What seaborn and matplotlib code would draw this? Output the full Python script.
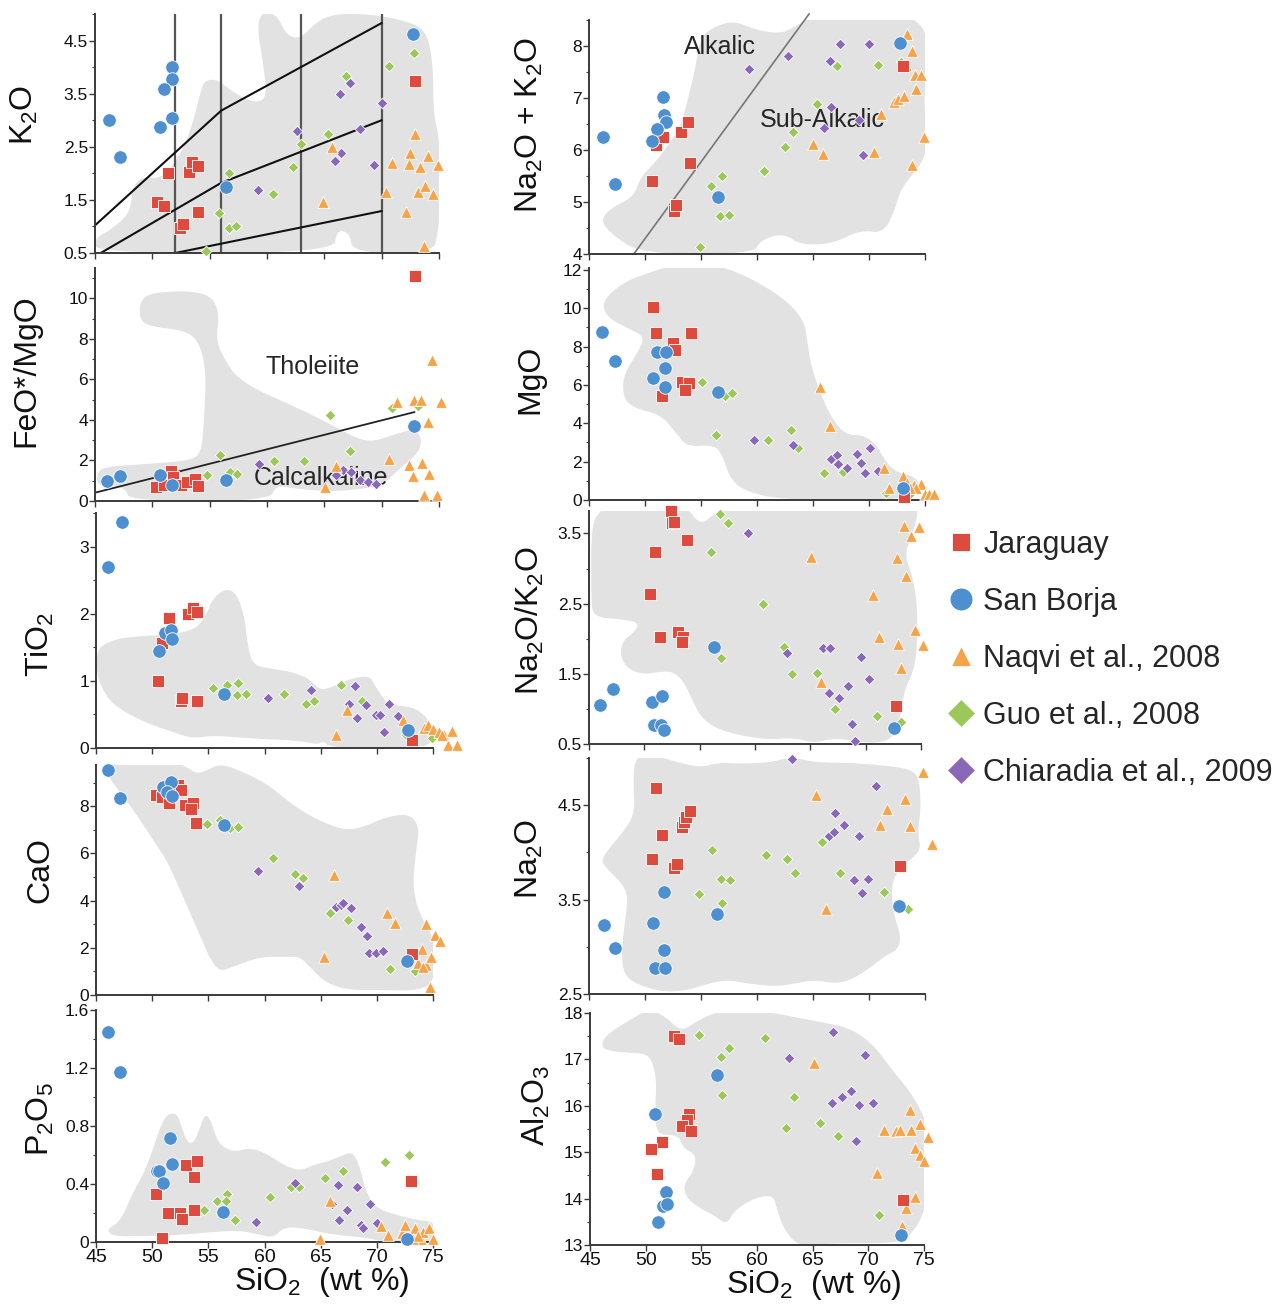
import numpy as np
import pandas as pd
import matplotlib
matplotlib.use("Agg")
import matplotlib.pyplot as plt
import seaborn as sns
from matplotlib.lines import Line2D

# ---------------- series ----------------
SERIES = ["Jaraguay", "San Borja", "Naqvi et al., 2008", "Guo et al., 2008", "Chiaradia et al., 2009"]
COLORS = ["#DD4A3E", "#4D8FCF", "#F6A34A", "#9CC75A", "#8A68B8"]
MARKERS = ["s", "o", "^", "D", "D"]
SIZES = [70, 95, 70, 30, 30]
DRAW_ORDER = [3, 4, 2, 0, 1]

# ---------------- K2O ----------------
K2O_JAR = [(51.4, 2.01), (53.2, 2.03), (53.5, 2.21), (54.0, 2.13), (50.4, 1.46), (51.0, 1.39),
           (52.45, 0.97), (52.7, 1.05), (54.0, 1.27), (72.9, 3.73)]
K2O_SB = [(46.2, 3.0), (47.2, 2.31), (51.7, 4.0), (51.75, 3.78), (51.0, 3.59), (50.65, 2.88),
          (51.7, 3.05), (56.4, 1.74), (72.7, 4.63)]
K2O_NAQ = [(64.9, 1.46), (65.7, 2.5), (70.4, 1.65), (70.9, 2.2), (72.1, 1.28), (72.45, 2.38),
           (72.4, 2.18), (72.9, 2.74), (73.3, 2.11), (73.2, 1.65), (73.75, 1.77), (74.0, 2.33),
           (74.5, 1.61), (74.9, 2.15), (73.7, 0.63)]
K2O_GUO = [(54.7, 0.53), (55.8, 1.25), (56.7, 2.01), (56.7, 0.98), (57.3, 1.01), (60.5, 1.61),
           (62.3, 2.11), (63.0, 2.56), (65.3, 2.75), (66.9, 3.83), (70.6, 4.03), (72.8, 4.27)]
K2O_CHI = [(59.2, 1.68), (62.65, 2.8), (66.4, 3.49), (67.2, 3.71), (66.45, 2.39), (65.9, 2.24),
           (68.1, 2.83), (69.3, 2.16), (70.0, 3.32)]
K2O_FIELD = [(45, 0.5), (45, 0.78), (46.4, 0.94), (48.1, 1.26), (48.25, 1.76), (49.3, 1.95), (50.7, 1.89),
             (52.2, 2.26), (53.3, 2.77), (54.2, 3.52), (54.5, 3.74), (55.6, 3.78), (57.1, 3.52),
             (58.8, 3.33), (60.0, 3.4), (59.7, 4.03), (59.1, 4.78), (59.7, 5.07), (60.9, 4.97),
             (61.7, 4.6), (62.9, 4.53), (64.3, 4.85), (65.8, 5.0), (68.7, 5.0), (71.6, 4.9),
             (73.9, 4.72), (74.5, 4.03), (74.5, 3.15), (75.05, 2.64), (75.2, 1.5), (74.9, 0.88),
             (74.5, 0.5), (67.5, 0.5), (67.2, 0.88), (66.1, 0.94), (65.8, 0.5)]
K2O_LINES = [[(45, 1.02), (56, 3.18), (70, 4.83)],
             [(45.5, 0.5), (56, 1.82), (70, 3.0)],
             [(52, 0.5), (70, 1.29)]]
K2O_VLINES = [52, 56, 63, 70]

# ---------------- Na2O + K2O ----------------
ALK_JAR = [(50.6, 5.41), (51.0, 6.09), (51.6, 6.25), (53.2, 6.34), (53.8, 6.54), (54.0, 5.75),
           (52.6, 4.83), (52.8, 4.95), (73.0, 7.62)]
ALK_SB = [(46.25, 6.25), (47.3, 5.34), (51.6, 7.01), (51.7, 6.67), (51.9, 6.54), (51.1, 6.4),
          (50.6, 6.18), (56.5, 5.09), (72.8, 8.06)]
ALK_NAQ = [(65.0, 6.11), (65.85, 5.93), (70.45, 5.96), (71.05, 6.7), (72.2, 6.92), (72.6, 6.98),
           (73.1, 7.03), (73.4, 8.24), (73.8, 7.9), (73.3, 7.63), (74.1, 7.44), (74.6, 7.44),
           (74.2, 7.18), (74.9, 6.25), (73.8, 5.72)]
ALK_GUO = [(54.9, 4.13), (55.9, 5.31), (56.85, 5.5), (56.7, 4.74), (57.5, 4.75), (60.6, 5.6),
           (62.5, 6.06), (63.2, 6.35), (65.4, 6.89), (67.1, 7.62), (70.8, 7.63), (72.9, 7.7)]
ALK_CHI = [(59.3, 7.56), (62.8, 7.81), (66.5, 7.72), (67.4, 8.03), (70.0, 8.04), (66.6, 6.83),
           (66.0, 6.43), (69.1, 6.57), (69.5, 5.9)]
ALK_FIELD = [(46.04, 4.65), (46.93, 4.88), (49.0, 5.1), (49.6, 5.48), (51.1, 5.8), (53.2, 6.44),
             (53.8, 6.96), (54.4, 7.47), (54.95, 8.17), (56.1, 8.36), (57.9, 8.49), (60.0, 8.3),
             (62.1, 8.24), (63.3, 8.36), (64.75, 8.56), (66.8, 8.59), (69.8, 8.59), (72.8, 8.62),
             (74.25, 8.49), (75.15, 8.24), (75.3, 7.6), (74.85, 6.96), (75.3, 6.19), (74.85, 5.8),
             (73.96, 5.55), (72.8, 5.23), (72.3, 4.84), (71.3, 4.4), (69.2, 4.46), (66.8, 4.2),
             (63.9, 4.17), (62.4, 4.4), (60.3, 4.27), (59.7, 4.0), (49.6, 4.0), (46.9, 4.4)]
ALK_LINE = [(49.0, 4.0), (64.66, 8.62)]

# ---------------- FeO*/MgO ----------------
FEO_JAR = [(50.3, 0.67), (51.0, 0.79), (51.6, 1.48), (51.8, 1.2), (52.5, 0.79), (53.0, 0.95),
           (53.7, 1.11), (54.0, 0.74), (72.9, 11.11)]
FEO_SB = [(46.05, 0.98), (47.2, 1.25), (50.7, 1.28), (51.7, 0.79), (56.4, 1.03), (72.8, 3.7)]
FEO_NAQ = [(65.1, 0.67), (66.0, 1.74), (70.6, 2.07), (71.3, 4.89), (72.4, 1.8), (72.7, 1.25),
           (72.8, 4.97), (73.4, 4.97), (73.5, 1.9), (74.0, 3.9), (74.1, 1.31), (73.7, 0.3),
           (74.4, 6.98), (74.8, 0.3), (75.2, 4.89)]
FEO_GUO = [(54.8, 1.28), (55.9, 2.26), (56.8, 1.44), (57.4, 1.31), (60.6, 1.98), (63.2, 1.98),
           (65.5, 4.23), (67.2, 2.48), (70.9, 4.59), (73.2, 4.69)]
FEO_CHI = [(59.3, 1.85), (66.0, 1.28), (66.6, 1.52), (67.35, 1.44), (68.1, 1.03), (68.8, 0.95),
           (69.5, 0.82)]
FEO_FIELD = [(45.2, 1.44), (46.0, 1.69), (48.9, 1.8), (52.9, 1.97), (54.25, 2.26), (54.5, 3.9),
             (54.7, 6.36), (54.1, 7.84), (52.9, 8.41), (49.7, 8.62), (48.9, 8.98), (48.9, 9.8),
             (49.7, 10.26), (52.9, 10.38), (55.1, 10.16), (55.85, 9.31), (55.56, 8.0), (56.1, 7.18),
             (57.6, 5.87), (62.8, 4.56), (65.7, 3.74), (68.65, 2.84), (71.0, 3.25), (72.7, 3.57),
             (73.5, 3.16), (73.3, 2.43), (71.6, 1.61), (70.1, 0.79), (68.65, 0.62), (65.7, 0.46),
             (62.25, 0.62), (60.8, 0.79), (60.2, 0.0), (48.0, 0.0), (47.7, 0.62), (46.25, 0.79),
             (45.2, 0.79)]
FEO_LINE = [(45.0, 0.41), (72.87, 4.39)]

# ---------------- MgO ----------------
MGO_JAR = [(50.7, 10.09), (51.0, 8.73), (54.1, 8.73), (52.5, 8.17), (52.7, 7.83), (53.3, 6.17),
           (53.9, 6.09), (53.6, 5.74), (51.5, 5.44), (73.1, 0.17)]
MGO_SB = [(46.2, 8.75), (47.3, 7.25), (51.1, 7.7), (51.9, 7.7), (51.8, 6.9), (50.7, 6.35),
          (51.75, 5.91), (56.5, 5.62), (73.0, 0.64)]
MGO_NAQ = [(65.6, 5.91), (66.5, 3.86), (71.3, 1.69), (71.8, 0.64), (73.0, 1.27), (73.4, 0.87),
           (74.0, 0.78), (74.6, 0.82), (74.2, 0.61), (73.7, 0.61), (75.0, 0.3), (75.4, 0.3),
           (75.8, 0.3)]
MGO_GUO = [(55.1, 6.17), (56.3, 3.39), (57.1, 5.43), (57.8, 5.6), (61.0, 3.13), (63.0, 3.65),
           (63.7, 2.7), (66.0, 1.39), (67.7, 1.44), (71.5, 0.35), (73.75, 0.35)]
MGO_CHI = [(59.75, 3.13), (63.2, 2.87), (66.65, 2.14), (67.15, 2.35), (67.25, 1.86), (68.0, 1.65),
           (68.9, 2.38), (69.3, 1.91), (69.6, 1.43), (70.1, 2.73), (70.8, 1.53)]
MGO_FIELD = [(46.4, 10.52), (48.2, 11.39), (50.6, 11.91), (52.9, 12.3), (56.5, 12.26), (59.45, 11.57),
             (62.4, 10.52), (64.2, 9.39), (64.5, 8.26), (64.8, 7.04), (65.7, 5.48), (66.85, 4.09),
             (68.0, 3.39), (69.5, 3.39), (70.7, 2.87), (71.3, 2.17), (72.3, 1.48), (73.7, 1.3),
             (74.5, 0.96), (74.3, 0.0), (62.7, 0.0), (59.45, 0.35), (57.7, 0.96), (56.9, 2.35),
             (56.2, 2.87), (53.8, 2.78), (52.9, 3.39), (51.5, 4.43), (49.1, 4.78), (48.05, 5.3),
             (48.05, 6.52), (49.4, 7.74), (49.97, 8.52), (48.5, 8.96), (47.0, 9.39), (46.27, 9.91)]

# ---------------- TiO2 ----------------
TIO_JAR = [(50.5, 1.0), (50.85, 1.57), (51.5, 1.94), (53.2, 1.99), (53.6, 2.09), (54.0, 2.02),
           (52.6, 0.7), (52.7, 0.74), (54.0, 0.7), (73.1, 0.12)]
TIO_SB = [(46.1, 2.69), (47.3, 3.36), (50.6, 1.44), (51.15, 1.71), (51.7, 1.76), (51.75, 1.63),
          (56.4, 0.8), (72.8, 0.27)]
TIO_NAQ = [(66.4, 0.2), (67.3, 0.56), (72.3, 0.41), (74.2, 0.3), (74.55, 0.34), (75.0, 0.29),
           (75.5, 0.24), (76.0, 0.2), (76.7, 0.25), (76.3, 0.05), (77.1, 0.04), (75.8, 0.19)]
TIO_GUO = [(55.45, 0.89), (56.7, 0.94), (57.6, 0.97), (57.55, 0.79), (58.35, 0.8), (61.7, 0.8),
           (63.65, 0.65), (64.4, 0.7), (66.8, 0.94), (68.7, 0.7), (72.6, 0.19), (74.9, 0.15)]
TIO_CHI = [(60.35, 0.75), (64.1, 0.86), (67.5, 0.65), (68.1, 0.92), (68.2, 0.45), (69.0, 0.64),
           (69.9, 0.49), (70.3, 0.49), (70.6, 0.24), (71.1, 0.65), (71.9, 0.47)]
TIO_FIELD = [(45.06, 1.48), (46.5, 1.61), (48.3, 1.66), (50.6, 1.68), (52.4, 1.71), (53.9, 1.78),
             (54.8, 1.98), (55.4, 2.23), (56.6, 2.38), (57.5, 2.3), (58.2, 1.98), (58.5, 1.53),
             (58.96, 1.23), (60.7, 1.18), (62.5, 1.13), (64.0, 1.03), (64.9, 0.86), (66.1, 0.91),
             (67.6, 1.03), (69.35, 1.08), (69.8, 0.94), (70.5, 0.76), (71.1, 0.64), (73.2, 0.61),
             (74.25, 0.49), (75.0, 0.31), (75.0, 0.11), (74.1, 0.0), (65.8, 0.0), (65.3, 0.11),
             (64.75, 0.05), (63.1, 0.11), (58.96, 0.14), (55.4, 0.19), (53.6, 0.14), (51.8, 0.24),
             (49.2, 0.39), (46.5, 0.64), (45.45, 0.91), (45.06, 1.13)]

# ---------------- Na2O/K2O ----------------
NAK_JAR = [(52.4, 3.82), (52.5, 3.65), (52.7, 3.67), (53.9, 3.41), (51.0, 3.23), (50.5, 2.64),
           (51.4, 2.03), (53.0, 2.1), (53.5, 2.03), (53.4, 1.96), (72.7, 1.04)]
NAK_SB = [(46.0, 1.06), (47.2, 1.28), (50.7, 1.1), (51.6, 1.19), (50.9, 0.77), (51.5, 0.77),
          (51.8, 0.7), (56.3, 1.88), (72.6, 0.73)]
NAK_NAQ = [(65.1, 3.17), (66.0, 1.38), (70.7, 2.62), (71.2, 2.03), (72.8, 3.15), (72.9, 1.93),
           (73.5, 3.61), (74.1, 3.46), (73.6, 2.9), (73.2, 1.58), (74.45, 2.12), (74.85, 3.59),
           (75.2, 1.91)]
NAK_GUO = [(56.8, 3.78), (57.55, 3.65), (56.0, 3.24), (60.7, 2.5), (56.9, 1.73), (62.6, 1.88),
           (63.3, 1.5), (65.6, 1.51), (67.2, 1.0), (71.0, 0.9), (73.15, 0.81)]
NAK_CHI = [(59.4, 3.5), (62.9, 1.79), (66.1, 1.87), (66.8, 1.87), (66.7, 1.23), (67.55, 1.16),
           (68.4, 1.32), (69.55, 1.74), (70.3, 1.43), (68.8, 0.79), (69.05, 0.54)]
NAK_FIELD = [(45.2, 3.62), (46.0, 3.82), (46.9, 3.92), (48.4, 3.92), (49.9, 3.8), (51.4, 3.87),
             (52.6, 3.92), (53.85, 3.87), (55.06, 3.62), (56.3, 3.77), (57.5, 3.92), (58.7, 3.92),
             (59.9, 3.85), (61.1, 3.87), (62.6, 3.92), (64.15, 3.92), (66.0, 3.9), (67.2, 3.97),
             (68.4, 3.95), (69.6, 4.02), (71.7, 4.02), (73.2, 3.92), (74.76, 3.97), (74.6, 3.67),
             (74.0, 3.43), (73.55, 3.18), (74.15, 2.93), (74.6, 2.58), (74.7, 2.08), (74.45, 1.58),
             (73.55, 1.29), (73.24, 0.99), (72.8, 0.69), (72.0, 0.54), (70.2, 0.51), (67.2, 0.59),
             (65.36, 0.51), (63.55, 0.59), (61.1, 0.56), (58.1, 0.64), (56.3, 0.74), (55.06, 0.89),
             (54.15, 1.19), (53.55, 1.39), (52.6, 1.53), (51.4, 1.53), (49.9, 1.49), (48.4, 1.58),
             (47.8, 1.78), (48.1, 1.98), (49.0, 2.08), (49.6, 2.23), (47.8, 2.28), (45.36, 2.31),
             (45.2, 2.58)]

# ---------------- CaO ----------------
CAO_JAR = [(50.3, 8.49), (50.9, 8.39), (51.5, 8.15), (52.3, 8.91), (52.6, 8.67), (52.9, 8.07),
           (53.6, 8.15), (53.5, 7.9), (53.9, 7.31), (73.1, 1.73)]
CAO_SB = [(46.1, 9.55), (47.1, 8.35), (51.0, 8.82), (51.7, 9.03), (51.3, 8.6), (51.8, 8.42),
          (56.4, 7.19), (72.7, 1.44)]
CAO_NAQ = [(65.3, 1.59), (66.2, 5.08), (70.9, 3.46), (71.6, 3.07), (74.05, 1.93), (74.35, 3.0),
           (73.7, 1.34), (74.4, 1.27), (74.8, 1.59), (75.15, 2.54), (75.6, 2.3), (74.7, 0.35),
           (74.1, 1.2)]
CAO_GUO = [(54.9, 7.26), (56.0, 7.4), (56.9, 7.08), (57.6, 7.12), (60.8, 5.81), (62.7, 5.15),
           (63.45, 4.94), (65.8, 3.46), (67.45, 3.2), (71.2, 1.1), (73.4, 1.02)]
CAO_CHI = [(59.45, 5.26), (63.1, 4.63), (66.35, 3.74), (66.8, 3.81), (67.0, 3.92), (67.7, 3.7),
           (68.6, 2.89), (69.1, 2.5), (69.3, 1.79), (69.9, 1.76), (70.55, 1.88)]
CAO_FIELD = [(46.27, 9.8), (48.35, 9.87), (50.4, 9.73), (51.9, 9.87), (53.1, 9.66), (53.97, 9.38),
             (54.86, 9.52), (56.05, 9.8), (57.8, 9.52), (60.2, 8.96), (62.0, 8.25), (63.7, 7.69),
             (65.5, 7.26), (67.3, 6.98), (68.8, 7.12), (70.85, 7.55), (72.9, 7.69), (73.8, 7.12),
             (73.5, 6.14), (73.2, 4.72), (73.5, 3.88), (74.1, 3.17), (75.0, 2.47), (75.3, 1.62),
             (75.0, 0.49), (73.5, 0.18), (70.6, 0.21), (67.6, 0.21), (65.5, 0.49), (64.0, 1.2),
             (63.15, 1.62), (62.0, 1.62), (59.6, 1.62), (57.2, 1.2), (56.05, 0.99), (55.2, 1.48),
             (54.3, 2.47), (52.5, 4.44), (51.3, 5.71), (50.1, 6.56), (48.35, 7.83), (46.3, 9.1),
             (46.0, 9.52)]

# ---------------- Na2O ----------------
NA_JAR = [(51.0, 4.68), (51.5, 4.18), (50.6, 3.93), (52.6, 3.84), (52.9, 3.88), (53.3, 4.27),
          (53.5, 4.32), (53.7, 4.38), (54.0, 4.44), (72.8, 3.86)]
NA_SB = [(46.3, 3.23), (47.3, 2.99), (50.7, 3.25), (51.7, 3.58), (51.7, 2.97), (50.9, 2.78),
         (51.8, 2.78), (56.4, 3.35), (72.7, 3.43)]
NA_NAQ = [(65.3, 4.61), (66.2, 3.4), (71.0, 4.29), (71.6, 4.46), (73.2, 4.57), (73.7, 4.28),
          (74.85, 4.85), (75.6, 4.09)]
NA_GUO = [(54.8, 3.56), (56.0, 4.03), (56.8, 3.72), (57.6, 3.71), (56.9, 3.46), (60.8, 3.97),
          (62.7, 3.93), (63.4, 3.78), (65.8, 4.11), (67.45, 3.78), (71.3, 3.58), (73.45, 3.4)]
NA_CHI = [(63.1, 4.99), (70.6, 4.7), (67.0, 4.42), (66.4, 4.17), (66.9, 4.22), (67.8, 4.29),
          (69.1, 4.17), (68.7, 3.71), (69.35, 3.57), (69.9, 3.72)]
NA_FIELD = [(49.1, 5.01), (50.6, 5.04), (53.0, 4.95), (55.0, 4.9), (56.5, 4.95), (58.6, 4.94),
            (61.0, 4.95), (63.06, 5.01), (65.4, 4.95), (68.4, 4.95), (71.4, 4.92), (73.75, 4.88),
            (74.5, 4.78), (74.64, 4.46), (74.34, 4.21), (74.64, 4.03), (73.75, 3.93), (72.4, 3.78),
            (71.97, 3.61), (72.26, 3.32), (72.86, 3.11), (72.56, 2.97), (71.4, 2.9), (69.9, 2.76),
            (68.4, 2.65), (66.9, 2.61), (65.1, 2.65), (63.35, 2.61), (61.6, 2.58), (59.2, 2.61),
            (57.4, 2.65), (55.6, 2.61), (53.85, 2.54), (51.5, 2.52), (49.1, 2.61), (48.06, 2.72),
            (47.9, 2.97), (48.2, 3.25), (48.5, 3.54), (47.9, 3.68), (46.4, 3.85), (46.1, 3.93),
            (47.0, 4.07), (48.2, 4.24), (49.1, 4.42), (48.95, 4.74)]

# ---------------- P2O5 ----------------
P_JAR = [(50.3, 0.33), (51.4, 0.2), (50.9, 0.03), (52.5, 0.2), (52.7, 0.16), (53.0, 0.53),
         (53.7, 0.45), (53.7, 0.22), (54.0, 0.56), (73.0, 0.42)]
P_SB = [(46.1, 1.45), (47.1, 1.17), (51.6, 0.72), (51.75, 0.54), (50.4, 0.49), (50.6, 0.49),
        (50.95, 0.41), (56.3, 0.21), (72.7, 0.02)]
P_NAQ = [(64.9, 0.02), (65.8, 0.28), (70.4, 0.11), (71.0, 0.05), (72.2, 0.06), (72.5, 0.12),
         (73.4, 0.1), (73.9, 0.02), (74.1, 0.07), (74.6, 0.1), (75.0, 0.02), (73.2, 0.02), (73.7, 0.04)]
P_GUO = [(54.65, 0.22), (55.8, 0.28), (56.7, 0.33), (56.6, 0.28), (57.4, 0.15), (60.5, 0.31),
         (62.4, 0.38), (63.1, 0.38), (65.4, 0.44), (67.0, 0.49), (70.7, 0.55), (72.9, 0.6)]
P_CHI = [(59.2, 0.14), (62.7, 0.41), (66.0, 0.26), (66.5, 0.39), (66.6, 0.15), (67.3, 0.22),
         (68.2, 0.38), (68.6, 0.12), (68.8, 0.1), (69.4, 0.26), (70.05, 0.13)]
P_FIELD = [(46.3, 0.05), (46.0, 0.09), (47.16, 0.14), (48.35, 0.35), (49.5, 0.51), (50.7, 0.79),
           (51.3, 0.88), (52.2, 0.89), (52.64, 0.79), (53.1, 0.69), (53.7, 0.68), (54.27, 0.79),
           (54.7, 0.88), (55.16, 0.85), (55.6, 0.74), (56.05, 0.67), (57.2, 0.62), (58.7, 0.65),
           (60.2, 0.61), (61.7, 0.53), (63.15, 0.49), (64.3, 0.53), (65.8, 0.56), (67.0, 0.6),
           (67.9, 0.62), (68.5, 0.51), (69.1, 0.33), (70.0, 0.23), (72.0, 0.18), (73.8, 0.15),
           (75.0, 0.14), (75.3, 0.07), (75.15, 0.0), (70.6, 0.0), (69.1, 0.03), (66.1, 0.05),
           (63.15, 0.1), (61.7, 0.1), (60.8, 0.03), (59.6, 0.05), (57.8, 0.08), (55.45, 0.07),
           (52.8, 0.05), (48.9, 0.04), (47.2, 0.04)]

# ---------------- Al2O3 ----------------
AL_JAR = [(52.5, 17.5), (53.0, 17.44), (53.9, 15.83), (53.7, 15.7), (53.3, 15.57), (54.1, 15.46),
          (51.5, 15.23), (50.5, 15.06), (51.05, 14.53), (73.1, 13.97)]
AL_SB = [(50.8, 15.82), (51.8, 14.14), (51.6, 13.83), (51.9, 13.88), (51.1, 13.5), (56.4, 16.67),
         (72.9, 13.22)]
AL_NAQ = [(65.15, 16.92), (70.75, 14.56), (71.4, 15.48), (72.5, 15.45), (72.8, 15.48), (73.7, 15.91),
          (73.8, 15.47), (74.6, 15.6), (74.2, 15.09), (74.6, 14.94), (75.0, 14.81), (75.4, 15.32),
          (74.2, 14.04), (73.4, 13.79), (73.0, 13.42)]
AL_GUO = [(54.8, 17.53), (56.8, 17.05), (57.5, 17.24), (56.9, 16.24), (60.7, 17.46), (62.6, 15.52),
          (63.3, 16.18), (65.7, 15.64), (67.3, 15.34), (71.0, 13.65)]
AL_CHI = [(62.9, 17.03), (66.8, 17.58), (69.7, 17.09), (66.7, 16.07), (67.6, 16.18), (68.4, 16.31),
          (69.2, 16.01), (70.4, 16.07), (68.9, 15.24)]
AL_FIELD = [(46.05, 17.24), (46.2, 17.46), (47.4, 17.68), (48.9, 17.89), (50.4, 18.11), (51.9, 17.89),
            (53.2, 17.6), (54.6, 17.82), (56.1, 18.0), (57.9, 18.07), (60.3, 18.04), (62.4, 17.96),
            (65.4, 17.82), (68.35, 17.68), (70.45, 17.32), (72.25, 16.74), (73.74, 16.31),
            (74.94, 15.81), (75.54, 15.3), (75.54, 14.65), (75.24, 13.94), (74.64, 13.5),
            (73.74, 13.22), (72.84, 13.04), (66.86, 13.04), (65.36, 13.0), (63.56, 13.0),
            (62.37, 13.36), (61.77, 13.79), (61.47, 14.08), (59.67, 14.01), (57.87, 13.72),
            (57.28, 13.43), (56.08, 13.65), (54.88, 13.79), (53.68, 14.01), (53.38, 14.29),
            (54.28, 14.58), (54.58, 14.94), (53.38, 15.09), (53.08, 15.3), (52.49, 15.37),
            (51.59, 15.37), (50.99, 15.45), (50.84, 15.88), (50.99, 16.6), (50.39, 17.1),
            (48.89, 17.14), (47.1, 17.17)]

# ---------------- style ----------------
sns.set_theme(style="ticks")
plt.rcParams["font.family"] = ["Liberation Sans", "DejaVu Sans"]
plt.rcParams["mathtext.fontset"] = "custom"
plt.rcParams["mathtext.rm"] = "Liberation Sans"
plt.rcParams["mathtext.it"] = "Liberation Sans:italic"
plt.rcParams["mathtext.bf"] = "Liberation Sans:bold"

GREY = "#e2e2e2"
SPINE = "#3a3a3a"
W, H = 1286, 1306


def smooth(pts, n=3):
    p = np.asarray(pts, float)
    for _ in range(n):
        a = np.roll(p, -1, axis=0)
        q = 0.75 * p + 0.25 * a
        r = 0.25 * p + 0.75 * a
        p = np.empty((2 * len(q), 2))
        p[0::2] = q
        p[1::2] = r
    return p


def box(x0, y0, x1, y1):
    return [x0 / W, 1 - y1 / H, (x1 - x0) / W, (y1 - y0) / H]


PANELS = [
    dict(pos=box(95, 14, 439, 253), ylim=(0.5, 5.0), major=[0.5, 1.5, 2.5, 3.5, 4.5], minor=0.5,
         label=r"K$_2$O", lab=(-0.16, 0.58),
         data=[K2O_JAR, K2O_SB, K2O_NAQ, K2O_GUO, K2O_CHI], field=K2O_FIELD, bottom=False),
    dict(pos=box(589, 20, 925, 254), ylim=(4, 8.5), major=[4, 5, 6, 7, 8], minor=0.5,
         label=r"Na$_2$O + K$_2$O", lab=(-0.13, 0.55),
         data=[ALK_JAR, ALK_SB, ALK_NAQ, ALK_GUO, ALK_CHI], field=ALK_FIELD, bottom=False),
    dict(pos=box(95, 268, 439, 501), ylim=(0, 11.5), major=[0, 2, 4, 6, 8, 10], minor=1,
         label=r"FeO*/MgO", lab=(-0.155, 0.56),
         data=[FEO_JAR, FEO_SB, FEO_NAQ, FEO_GUO, FEO_CHI], field=FEO_FIELD, bottom=False),
    dict(pos=box(589, 268, 925, 500), ylim=(0, 12.1), major=[0, 2, 4, 6, 8, 10, 12], minor=1,
         label=r"MgO", lab=(-0.13, 0.52),
         data=[MGO_JAR, MGO_SB, MGO_NAQ, MGO_GUO, MGO_CHI], field=MGO_FIELD, bottom=False),
    dict(pos=box(96, 513, 433, 748), ylim=(0, 3.5), major=[0, 1, 2, 3], minor=0.5,
         label=r"TiO$_2$", lab=(-0.12, 0.44),
         data=[TIO_JAR, TIO_SB, TIO_NAQ, TIO_GUO, TIO_CHI], field=TIO_FIELD, bottom=False),
    dict(pos=box(589, 511, 921, 744), ylim=(0.5, 3.82), major=[0.5, 1.5, 2.5, 3.5], minor=0.5,
         label=r"Na$_2$O/K$_2$O", lab=(-0.13, 0.53),
         data=[NAK_JAR, NAK_SB, NAK_NAQ, NAK_GUO, NAK_CHI], field=NAK_FIELD, bottom=False),
    dict(pos=box(96, 765, 433, 995), ylim=(0, 9.75), major=[0, 2, 4, 6, 8], minor=1,
         label=r"CaO", lab=(-0.12, 0.545),
         data=[CAO_JAR, CAO_SB, CAO_NAQ, CAO_GUO, CAO_CHI], field=CAO_FIELD, bottom=False),
    dict(pos=box(589, 758, 925, 994), ylim=(2.5, 5.0), major=[2.5, 3.5, 4.5], minor=0.5,
         label=r"Na$_2$O", lab=(-0.13, 0.57),
         data=[NA_JAR, NA_SB, NA_NAQ, NA_GUO, NA_CHI], field=NA_FIELD, bottom=False),
    dict(pos=box(96, 1010, 433, 1242), ylim=(0, 1.6), major=[0, 0.4, 0.8, 1.2, 1.6], minor=0.2,
         label=r"P$_2$O$_5$", lab=(-0.12, 0.53),
         data=[P_JAR, P_SB, P_NAQ, P_GUO, P_CHI], field=P_FIELD, bottom=True),
    dict(pos=box(590, 1013, 924, 1245), ylim=(13, 18), major=[13, 14, 15, 16, 17, 18], minor=0.5,
         label=r"Al$_2$O$_3$", lab=(-0.115, 0.6),
         data=[AL_JAR, AL_SB, AL_NAQ, AL_GUO, AL_CHI], field=AL_FIELD, bottom=True),
]

fig = plt.figure(figsize=(W / 100, H / 100), dpi=100)
axes = []
for cfg in PANELS:
    ax = fig.add_axes(cfg["pos"])
    axes.append(ax)
    poly = smooth(cfg["field"])
    ax.fill(poly[:, 0], poly[:, 1], color=GREY, lw=0, zorder=0)
    for i in DRAW_ORDER:
        pts = np.asarray(cfg["data"][i])
        df = pd.DataFrame({"SiO2": pts[:, 0], "val": pts[:, 1]})
        sns.scatterplot(data=df, x="SiO2", y="val", ax=ax, marker=MARKERS[i], color=COLORS[i],
                        s=SIZES[i], edgecolor="white", linewidth=0.6, clip_on=False,
                        zorder=3, legend=False)
    ax.set_xlim(45, 75)
    ax.set_ylim(*cfg["ylim"])
    ax.set_xticks(np.arange(45, 76, 5))
    ax.set_yticks(cfg["major"])
    ax.set_yticklabels(["{:g}".format(v) for v in cfg["major"]])
    ax.yaxis.set_minor_locator(matplotlib.ticker.MultipleLocator(cfg["minor"]))
    ax.set_facecolor("none")
    for s in ("top", "right"):
        ax.spines[s].set_visible(False)
    for s in ("left", "bottom"):
        ax.spines[s].set_color(SPINE)
        ax.spines[s].set_linewidth(1.4)
    ax.tick_params(axis="both", which="major", direction="out", length=4, width=1.0,
                   color=SPINE, labelcolor="#111111", pad=1)
    ax.tick_params(axis="y", which="minor", direction="out", length=2.5, width=0.8, color=SPINE)
    ax.tick_params(axis="y", which="major", labelsize=12.5)
    ax.tick_params(axis="x", which="major", labelsize=14, labelbottom=cfg["bottom"])
    ax.set_ylabel(cfg["label"], fontsize=23, color="#111111")
    ax.yaxis.set_label_coords(*cfg["lab"])
    if cfg["bottom"]:
        ax.set_xlabel(r"SiO$_2$  (wt %)", fontsize=23, color="#111111")
        ax.xaxis.set_label_coords(0.67, -0.1)
    else:
        ax.set_xlabel("")

# classification lines
ax = axes[0]
for xv in K2O_VLINES:
    ax.axvline(xv, color="#555555", lw=1.6, zorder=1)
for ln in K2O_LINES:
    a = np.asarray(ln)
    ax.plot(a[:, 0], a[:, 1], color="#111111", lw=1.5, zorder=1)

ax = axes[1]
a = np.asarray(ALK_LINE)
ax.plot(a[:, 0], a[:, 1], color="#777777", lw=1.2, zorder=1, clip_on=False)
ax.text(56.7, 7.98, "Alkalic", fontsize=18, ha="center", va="center", zorder=2)
ax.text(65.8, 6.57, "Sub-Alkalic", fontsize=18, ha="center", va="center", zorder=2)

ax = axes[2]
a = np.asarray(FEO_LINE)
ax.plot(a[:, 0], a[:, 1], color="#222222", lw=1.3, zorder=1)
ax.text(64.0, 6.6, "Tholeiite", fontsize=18, ha="center", va="center", zorder=2)
ax.text(64.7, 1.15, "Calcalkaline", fontsize=18, ha="center", va="center", zorder=2)

# legend
LEG_MS = [13, 16.5, 14.5, 14, 14]
handles = [Line2D([0], [0], marker=MARKERS[i], color="none", markerfacecolor=COLORS[i],
                  markeredgecolor="white", markeredgewidth=0.6,
                  markersize=LEG_MS[i]) for i in range(5)]
fig.legend(handles, SERIES, loc="upper left", bbox_to_anchor=(946 / W, 1 - 530 / H),
           frameon=False, fontsize=22, handletextpad=0.22, labelspacing=0.88,
           handlelength=1.0, borderaxespad=0, borderpad=0)

fig.savefig("out.png", dpi=100)
